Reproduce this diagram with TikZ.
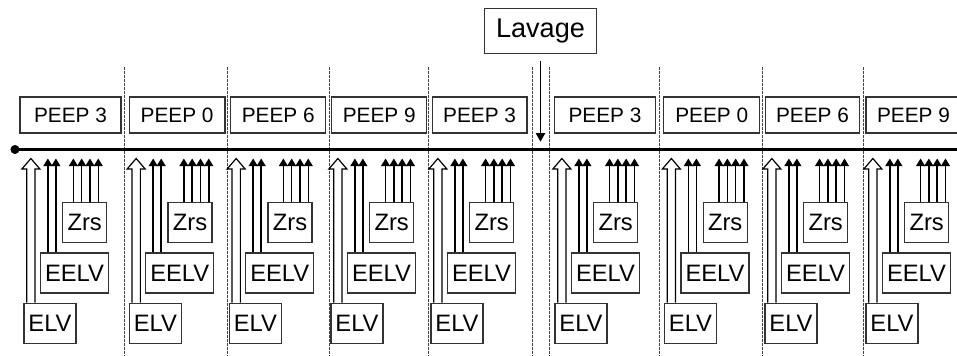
\documentclass[tikz,border=0pt]{standalone}
\usepackage{fontspec}
\setmainfont{Liberation Sans}
\usetikzlibrary{arrows.meta,calc}
\begin{document}
\begin{tikzpicture}[x=0.75pt,y=-0.75pt,
  box/.style={draw=black!80,line width=0.95pt,inner sep=0pt,text=black},
  peepbox/.style={box,minimum height=27pt,font=\fontsize{15.6}{18}\selectfont},
  measbox/.style={box,minimum height=30pt,font=\fontsize{17.8}{20}\selectfont},
  sepline/.style={draw=black!75,line width=0.7pt,dash pattern=on 2pt off 1pt},
  fillarrow/.style={line width=1.1pt,-{Triangle[width=6.8pt,length=5.8pt]}},
  openarrow/.style={draw,line width=0.9pt,line join=miter}
]
\useasboundingbox (0,0) rectangle (957,356);
\clip (0,0) rectangle (957,356);

% separators
\foreach \x in {124.3,227.7,329,428.7,532,549.7,659.7,762,863}
  \draw[sepline] (\x,67) -- (\x,356);

% timeline
\node[circle,fill=black,inner sep=0pt,minimum size=6.8pt] (dot) at (15,149.5) {};
\coordinate (tlend) at (960,149.5);
\draw[line width=2.3pt] (dot.center) -- (tlend);
\coordinate (tip) at (0,158.5);

% lavage
\node[box,minimum width=83.6pt,minimum height=33.8pt,font=\fontsize{20.3}{24}\selectfont] (lav) at (540.5,30.8) {Lavage};
\coordinate (lt) at (540,141.7);
\draw[line width=1.1pt,shorten <=5pt,-{Triangle[width=7pt,length=6.5pt]}] (lav.south) -- (lav.south |- lt);

% PEEP boxes
\foreach \i/\l/\r/\t in {1/20/121/PEEP 3, 2/129.3/225/PEEP 0, 3/230.7/325.7/PEEP 6, 4/331.7/426.7/PEEP 9, 5/432.3/527/PEEP 3, 6/554.7/655.3/PEEP 3, 7/663.7/759.7/PEEP 0, 8/765.3/859.7/PEEP 6, 9/866/961/PEEP 9}{
  \pgfmathsetmacro\w{(\r-\l)*0.75}
  \node[peepbox,minimum width=\w pt] (peep\i) at ({(\l+\r)/2},115) {\t};
}

% measurement groups
\foreach \i/\e/\zo in {1/24/11.3, 2/129.3/16.5, 3/229.3/16, 4/331/16.5, 5/431/16.5, 6/555/16.5, 7/664.5/16.5, 8/765/16.5, 9/866/16.5}{
  \node[measbox,minimum width=39pt] (elv\i) at (\e+26,323.3) {ELV};
  \node[measbox,minimum width=51pt] (eelv\i) at (\e+50.5,273) {EELV};
  \node[measbox,minimum width=33pt] (zrs\i) at (\e+60.7,222.3) {Zrs};
  % open arrow
  \coordinate (o\i) at ($(elv\i.north west)+(7.5,0)$);
  \coordinate (ot\i) at (o\i |- tip);
  \draw[openarrow] ($(o\i)+(-4.2,0)$) -- ($(ot\i)+(-4.2,10.5)$) -- ($(ot\i)+(-9,10.5)$) -- (ot\i)
     -- ($(ot\i)+(9,10.5)$) -- ($(ot\i)+(4.2,10.5)$) -- ($(o\i)+(4.2,0)$);
  % EELV pair
  \foreach \d in {8,16}{
    \coordinate (q) at ($(eelv\i.north west)+(\d,0)$);
    \draw[fillarrow] (q) -- (q |- tip);
  }
  % Zrs four
  \foreach \d in {0,8.3,16.6,24.9}{
    \coordinate (r) at ($(zrs\i.north west)+(\zo+\d,0)$);
    \draw[fillarrow] (r) -- (r |- tip);
  }
}
\end{tikzpicture}
\end{document}
